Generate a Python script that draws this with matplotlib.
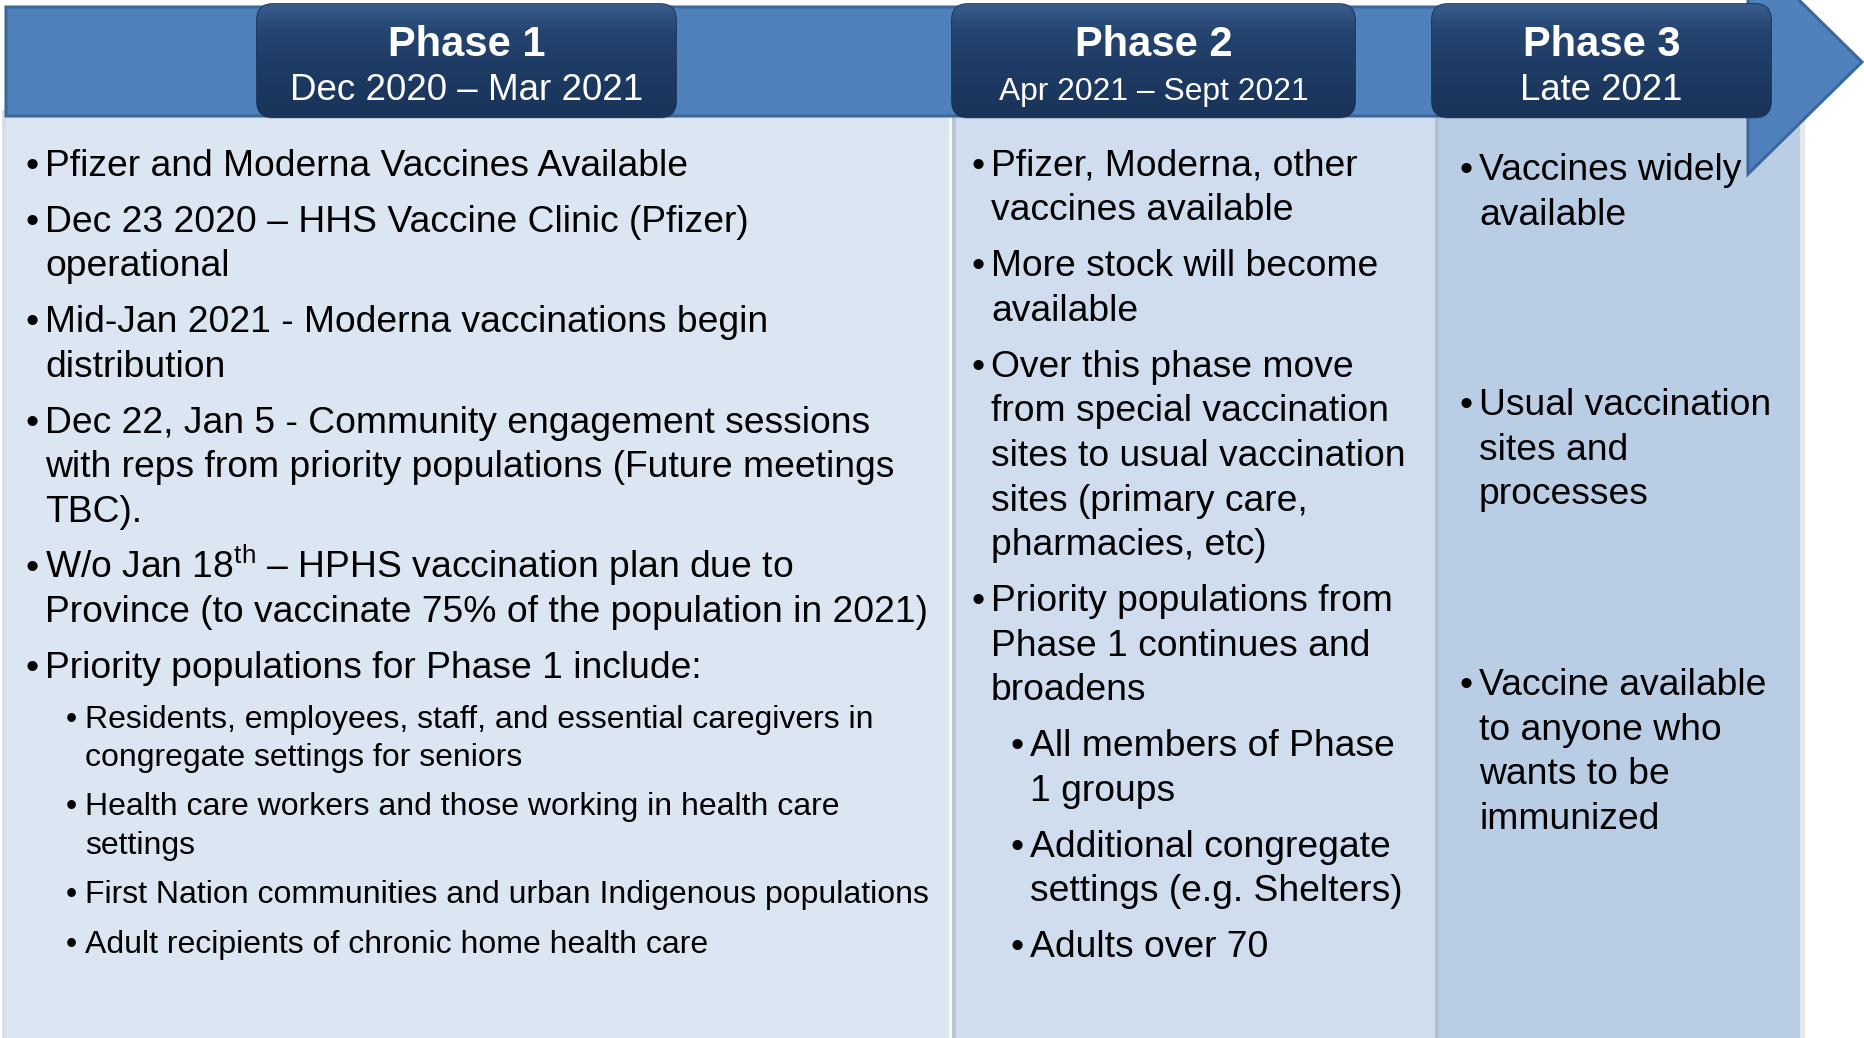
import numpy as np
import matplotlib
matplotlib.use("Agg")
import matplotlib.pyplot as plt
from matplotlib.patches import Polygon, Rectangle, FancyBboxPatch
from matplotlib.colors import LinearSegmentedColormap

plt.rcParams['font.family'] = ['Liberation Sans', 'DejaVu Sans']
plt.rcParams['mathtext.fontset'] = 'custom'
plt.rcParams['mathtext.rm'] = 'Liberation Sans'
plt.rcParams['mathtext.default'] = 'regular'

# ---- content -----------------------------------------------------------------
phase_titles = ["Phase 1", "Phase 2", "Phase 3"]
phase_dates = ["Dec 2020 – Mar 2021", "Apr 2021 – Sept 2021", "Late 2021"]

# (indent level, wrapped lines)
phase1_items = [
    (0, ["Pfizer and Moderna Vaccines Available"]),
    (0, ["Dec 23 2020 – HHS Vaccine Clinic (Pfizer)", "operational"]),
    (0, ["Mid-Jan 2021 - Moderna vaccinations begin", "distribution"]),
    (0, ["Dec 22, Jan 5 - Community engagement sessions",
         "with reps from priority populations (Future meetings", "TBC)."]),
    (0, ["W/o Jan 18$^{th}$ – HPHS vaccination plan due to",
         "Province (to vaccinate 75% of the population in 2021)"]),
    (0, ["Priority populations for Phase 1 include:"]),
    (1, ["Residents, employees, staff, and essential caregivers in",
         "congregate settings for seniors"]),
    (1, ["Health care workers and those working in health care", "settings"]),
    (1, ["First Nation communities and urban Indigenous populations"]),
    (1, ["Adult recipients of chronic home health care"]),
]

phase2_items = [
    (0, ["Pfizer, Moderna, other", "vaccines available"]),
    (0, ["More stock will become", "available"]),
    (0, ["Over this phase move", "from special vaccination",
         "sites to usual vaccination", "sites (primary care,", "pharmacies, etc)"]),
    (0, ["Priority populations from", "Phase 1 continues and", "broadens"]),
    (1, ["All members of Phase", "1 groups"]),
    (1, ["Additional congregate", "settings (e.g. Shelters)"]),
    (1, ["Adults over 70"]),
]

phase3_items = [
    (0, ["Vaccines widely", "available"]),
    (0, ["Usual vaccination", "sites and", "processes"]),
    (0, ["Vaccine available", "to anyone who", "wants to be", "immunized"]),
]

# ---- layout (pixels) -----------------------------------------------------------
W, H = 1865, 1038
col_x = [6, 953, 1437, 1800]
col_colors = ['#DCE6F2', '#CFDDEE', '#B9CDE5']
boxes = [(257, 676), (952, 1355), (1432, 1771)]
title_sizes = [30, 30, 30]
date_sizes = [26.5, 22.9, 26.3]
body = 26.85

fig = plt.figure(figsize=(W / 100, H / 100), dpi=100)
ax = fig.add_axes([0, 0, 1, 1])

# columns
for i in range(3):
    ax.add_patch(Rectangle((col_x[i], 110), col_x[i + 1] - col_x[i], H - 110,
                           facecolor=col_colors[i], edgecolor='none', zorder=1))
# column edges / shadows
ax.add_patch(Rectangle((2, 110), 4, H, facecolor='#D9DDE3', edgecolor='none', zorder=1))
ax.add_patch(Rectangle((949, 110), 2.5, H, facecolor='#F4F7FB', edgecolor='none', zorder=2))
ax.add_patch(Rectangle((952, 110), 4, H, facecolor='#B9C4D2', edgecolor='none', zorder=2))
ax.add_patch(Rectangle((1435, 110), 4, H, facecolor='#B3C0CF', edgecolor='none', zorder=2))
ax.add_patch(Rectangle((1800, 110), 5, H, facecolor='#E6E8EB', edgecolor='none', zorder=1))

# arrow band
arrow = Polygon([(6, 7), (1748, 7), (1748, -50), (1862, 62), (1748, 174),
                 (1748, 116), (6, 116)], closed=True,
                facecolor='#4F81BD', edgecolor='#3C679A', linewidth=2.2, zorder=3)
ax.add_patch(arrow)

# phase boxes with shadow and gradient
box_cmap = LinearSegmentedColormap.from_list(
    'box', ['#3A5D8C', '#24446F', '#1F3D66', '#1C3860', '#1A3459'])
grad = np.linspace(0, 1, 256).reshape(-1, 1)
for (x0, x1), title, date, ts, ds in zip(boxes, phase_titles, phase_dates,
                                         title_sizes, date_sizes):
    for k, a in enumerate([0.10, 0.12, 0.16]):
        sh = FancyBboxPatch((x0 + 2 - k, 8 + 4 + k * 1.5), x1 - x0 - 4 + 2 * k,
                            108 - 4, boxstyle='round,pad=0,rounding_size=16',
                            facecolor='black', edgecolor='none', alpha=a, zorder=4)
        ax.add_patch(sh)
    box = FancyBboxPatch((x0, 4), x1 - x0, 113,
                         boxstyle='round,pad=0,rounding_size=16',
                         facecolor='#1F3D66', edgecolor='#17304F',
                         linewidth=1.2, zorder=5)
    ax.add_patch(box)
    im = ax.imshow(grad, extent=[x0, x1, 117, 4], cmap=box_cmap,
                   aspect='auto', zorder=5.5, interpolation='bicubic')
    im.set_clip_path(box)
    cx = (x0 + x1) / 2
    ax.text(cx, 56, title, color='white', fontsize=ts, fontweight='bold',
            ha='center', va='baseline', zorder=6)
    ax.text(cx, 100, date, color='white', fontsize=ds,
            ha='center', va='baseline', zorder=6)


def draw_column(items, bullet_x, text_x, sizes, steps, y0, starts=None):
    gap = 11.3
    y = y0
    for n, (lvl, lines) in enumerate(items):
        if starts is not None:
            y = starts[n]
        elif n > 0:
            y += steps[lvl] + gap
        ax.text(bullet_x[lvl], y, '•', fontsize=sizes[lvl], ha='center',
                va='baseline', color='black', zorder=6)
        for j, line in enumerate(lines):
            if j > 0:
                y += steps[lvl]
            ax.text(text_x[lvl], y, line, fontsize=sizes[lvl], ha='left',
                    va='baseline', color='black', zorder=6)


draw_column(phase1_items, {0: 32, 1: 71}, {0: 45, 1: 85},
            {0: body, 1: 23.0}, {0: 44.6, 1: 38.2}, 175.7)
draw_column(phase2_items, {0: 978, 1: 1017}, {0: 991, 1: 1030},
            {0: body, 1: body}, {0: 44.6, 1: 44.6}, 175.7)
draw_column(phase3_items, {0: 1466}, {0: 1479}, {0: body}, {0: 44.6}, 180,
            starts=[180, 415, 695])

ax.set_xlim(0, W)
ax.set_ylim(H, 0)
ax.axis('off')
fig.savefig('out.png', dpi=100, facecolor='white')
